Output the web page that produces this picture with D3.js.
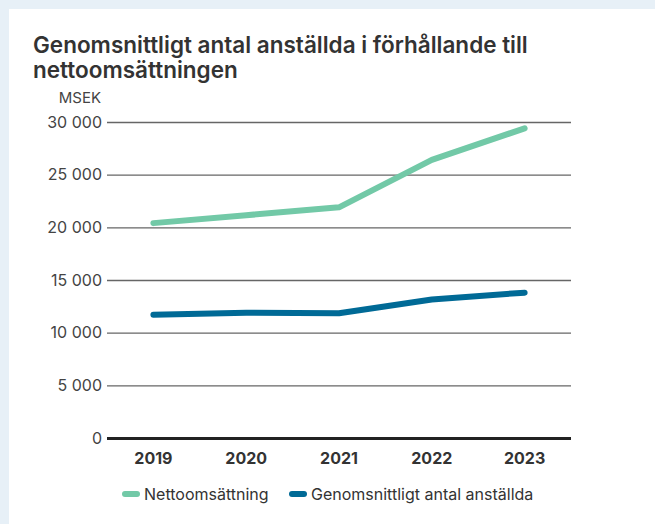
<html>
<head>
<meta charset="utf-8">
<title>Genomsnittligt antal anställda</title>
<script src="https://d3js.org/d3.v7.min.js"></script>
<style>
  body { margin: 0; background: #e7f0f7; }
  svg { display: block; font-family: Inter, "Noto Sans", sans-serif; }
</style>
</head>
<body>
<svg width="655" height="524"></svg>
<script>
var years = ["2019", "2020", "2021", "2022", "2023"];
var netSales = [20400, 21150, 21900, 26400, 29400];
var employees = [11700, 11900, 11850, 13150, 13800];
var yTicks = [0, 5000, 10000, 15000, 20000, 25000, 30000];
var seriesNames = ["Nettoomsättning", "Genomsnittligt antal anställda"];
var colors = ["#72c9a7", "#006a96"];

var svg = d3.select("svg"),
    margin = {top: 122, right: 84, bottom: 86, left: 107},
    width = +svg.attr("width") - margin.left - margin.right,
    height = +svg.attr("height") - margin.top - margin.bottom;

// white card
svg.append("rect").attr("x", 9).attr("y", 9).attr("width", 646).attr("height", 515).attr("fill", "#fff");

svg.append("text").attr("x", 33).attr("y", 53)
  .attr("font-size", 22.5).attr("font-weight", 600).attr("fill", "#333")
  .text("Genomsnittligt antal anställda i förhållande till");
svg.append("text").attr("x", 33).attr("y", 78)
  .attr("font-size", 22.5).attr("font-weight", 600).attr("fill", "#333")
  .text("nettoomsättningen");
svg.append("text").attr("x", 101).attr("y", 103).attr("text-anchor", "end")
  .attr("font-size", 15).attr("fill", "#444").text("MSEK");

var g = svg.append("g").attr("transform", `translate(${margin.left},${margin.top})`);

var x = d3.scaleBand().domain(years).range([0, width]);
var y = d3.scaleLinear().domain([0, 30000]).range([height, 0]);

var fmt = d => d3.format(",")(d).replace(",", " ");

// grid + y labels
var yAxis = g.append("g")
  .call(d3.axisLeft(y).tickValues(yTicks).tickSize(-width).tickPadding(5).tickFormat(fmt));
yAxis.select(".domain").remove();
yAxis.selectAll(".tick line").attr("stroke", "#666").attr("stroke-width", 1.3);
yAxis.selectAll(".tick text").attr("font-size", 16).attr("fill", "#444")
  .attr("font-family", "Inter, 'Noto Sans', sans-serif");
yAxis.selectAll(".tick").filter(d => d === 0).select("line")
  .attr("stroke", "#222").attr("stroke-width", 3);

// x labels
var xAxis = g.append("g").attr("transform", `translate(0,${height})`)
  .call(d3.axisBottom(x).tickSize(0).tickPadding(15));
xAxis.select(".domain").remove();
xAxis.selectAll("text").attr("font-size", 16).attr("font-weight", 700).attr("fill", "#333")
  .attr("font-family", "Inter, 'Noto Sans', sans-serif");

var line = d3.line().x((d, i) => x(years[i]) + x.bandwidth() / 2).y(d => y(d));
[netSales, employees].forEach(function(s, i) {
  g.append("path").attr("d", line(s)).attr("fill", "none")
    .attr("stroke", colors[i]).attr("stroke-width", 6)
    .attr("stroke-linecap", "round").attr("stroke-linejoin", "round");
});

// legend
var legX = [122, 289];
var leg = svg.append("g").selectAll("g").data(seriesNames).enter().append("g")
  .attr("transform", (d, i) => `translate(${legX[i]},494)`);
leg.append("rect").attr("width", 18).attr("height", 6).attr("y", -3).attr("rx", 3)
  .attr("fill", (d, i) => colors[i]);
leg.append("text").attr("x", 22).attr("y", 5.5).attr("font-size", 16).attr("fill", "#333").text(d => d);
</script>
</body>
</html>
